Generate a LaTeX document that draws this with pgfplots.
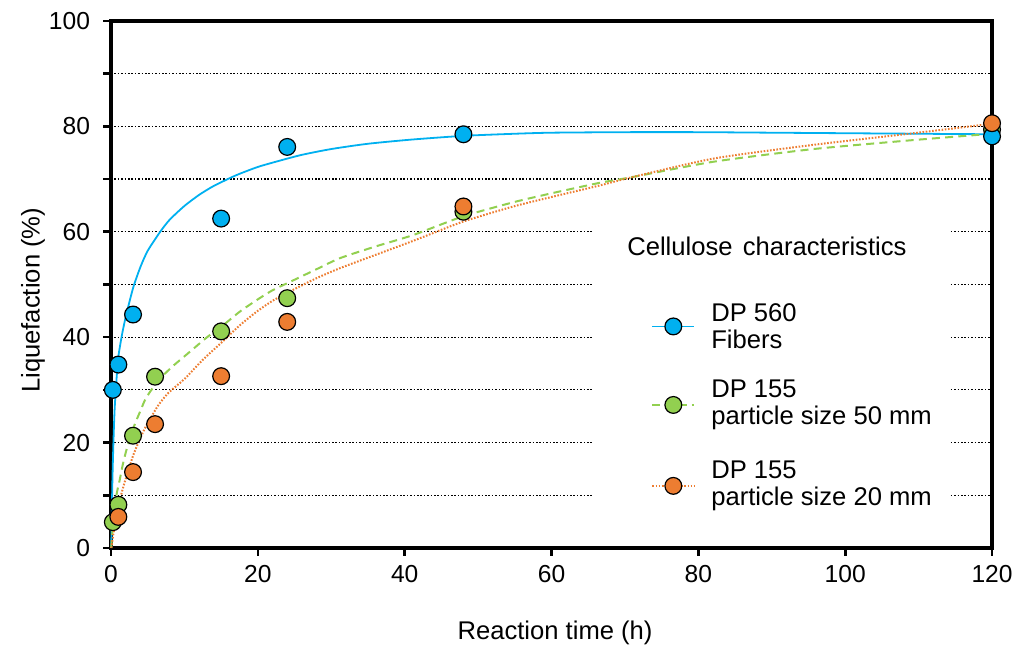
\documentclass[border=0pt]{standalone}
\usepackage{fontspec}
\setmainfont{Liberation Sans}
\usepackage{pgfplots}
\pgfplotsset{compat=1.18}

\definecolor{cblue}{RGB}{0,176,240}
\definecolor{cgreen}{RGB}{146,208,80}
\definecolor{corange}{RGB}{237,125,49}

% measured points
\pgfplotstableread{
x y
0.25 30.0
1 34.8
3 44.3
15 62.5
24 76.1
48 78.5
120 78.1
}\fibers
\pgfplotstableread{
x y
0.25 4.9
1 8.2
3 21.3
6 32.5
15 41.1
24 47.4
48 63.8
120 79.4
}\psfifty
\pgfplotstableread{
x y
1 5.9
3 14.4
6 23.5
15 32.6
24 42.9
48 64.8
120 80.6
}\pstwenty

\begin{document}
\begin{tikzpicture}[font=\fontsize{12.8}{13.5}\selectfont]
\begin{axis}[
  scale only axis, width=440.5pt, height=263.5pt,
  xmin=0, xmax=120, ymin=0, ymax=100,
  xtick={0,20,...,120}, ytick={0,20,...,100},
  minor ytick={10,30,...,90},
  xtick pos=bottom, ytick pos=left,
  tick align=outside, major tick length=4pt, minor tick length=4pt,
  tick style={black, line width=1.3pt},
  tick label style={font=\fontsize{12.3}{14}\selectfont},
  axis line style={line width=1.6pt},
  ymajorgrids, yminorgrids,
  major grid style={black, line width=0.6pt, dash pattern=on 0.8pt off 0.9pt},
  minor grid style={black, line width=0.6pt, dash pattern=on 0.8pt off 0.9pt},
  /pgf/number format/assume math mode=true,
  xticklabel style={yshift=-1pt},
  yticklabel style={xshift=-3pt},
  xlabel={Reaction time (h)}, ylabel={Liquefaction (\%)},
  xlabel style={at={(rel axis cs:0.504,-0.161)}, anchor=center},
  ylabel style={at={(rel axis cs:-0.0885,0.47)}, anchor=center},
  clip=false,
  legend style={at={(0.547,0.632)}, anchor=north west, draw=none, fill=white,
    inner xsep=8.5pt, inner ysep=11pt, row sep=15.5pt, column sep=8pt,
    nodes={inner sep=0pt, text depth=, align=left}, cells={anchor=west}},
  legend image code/.code={%
    \path (-20.5pt,0) (0,0);
    \draw[#1, mark repeat=2, mark phase=2] plot coordinates {(0pt,0pt) (10.5pt,0pt) (21pt,0pt)};},
  mark size=4.2pt,
]
% fitted curves
\addplot[forget plot, cblue, line width=0.9pt, smooth, tension=0.4] coordinates {
(0.03,0)(0.1,6)(0.2,13.5)(0.35,21)(0.5,26.5)(0.75,32)(1,36.3)(1.5,40.5)(2,43.8)(3,49.3)
(4,53.3)(5,56.4)(6.7,60)(8,62.3)(10,64.9)(12,67)(14,68.7)(17,70.7)(20,72.3)(23,73.5)
(26,74.6)(30,75.7)(35,76.7)(41,77.5)(48,78.2)(55,78.6)(60,78.8)(70,78.9)(80,78.9)
(90,78.8)(100,78.7)(110,78.6)(120,78.5)};
\addplot[forget plot, cgreen, line width=1pt, dash pattern=on 4pt off 2.6pt, smooth, tension=0.4] coordinates {
(0.03,0)(0.1,1.5)(0.3,5)(0.55,8)(0.8,10.5)(1.2,13)(1.6,15.8)(2.1,18.6)(2.7,21.3)(3.3,23.7)
(4,26)(4.6,28)(5.3,29.6)(6,30.9)(7,32.6)(8.5,34.6)(10.8,37.3)(13,39.9)(15.3,42.3)(17.5,44.8)
(19.8,47)(22,48.9)(24.4,50.5)(28,52.9)(31.2,55)(36,57.2)(41.2,59.4)(47.9,62.9)(54.8,65.6)
(60,67.3)(66.6,69.3)(70.7,70.3)(82.1,73.3)(95.7,75.7)(109.3,77.4)(120,78.6)};
\addplot[forget plot, corange, line width=1pt, dash pattern=on 0.8pt off 0.8pt, smooth, tension=0.4] coordinates {
(0.05,0)(0.3,2.5)(0.7,5.5)(1.2,9.1)(1.8,12.2)(2.4,14.8)(3,17.5)(3.7,19.9)(4.5,22.4)(5.5,24.9)
(6.5,27.2)(7.8,29.4)(10.1,32.2)(12.5,35.7)(15.3,39.3)(17.5,42.2)(19.8,44.8)(22,46.9)
(24.4,48.7)(28,51.2)(31.2,53.1)(36,55.6)(41.2,58.3)(47.9,61.9)(54.8,64.8)(60,66.6)
(66.6,68.8)(70.5,70.2)(82.1,73.9)(95.7,76.5)(109.3,78.7)(120,80.5)};
% measured points
\addplot[forget plot, only marks, mark=*, mark options={solid, draw=black, line width=0.6pt, fill=cgreen}] table {\psfifty};
\addplot[forget plot, only marks, mark=*, mark options={solid, draw=black, line width=0.6pt, fill=cblue}] table {\fibers};
\addplot[forget plot, only marks, mark=*, mark options={solid, draw=black, line width=0.6pt, fill=corange}] table {\pstwenty};
% legend
\addlegendimage{empty legend}
\addlegendentry{\hspace*{-42pt}Cellulose\hspace{0.4em}characteristics\rule[-8.5pt]{0pt}{0pt}}
\addlegendimage{cblue, line width=0.9pt, mark=*, mark options={solid, draw=black, line width=0.6pt, fill=cblue}}
\addlegendentry{DP 560\\Fibers}
\addlegendimage{cgreen, line width=1pt, dash pattern=on 4pt off 2.6pt, mark=*, mark options={solid, draw=black, line width=0.6pt, fill=cgreen}}
\addlegendentry{DP 155\\particle size 50 mm}
\addlegendimage{corange, line width=1pt, dash pattern=on 0.8pt off 0.8pt, mark=*, mark options={solid, draw=black, line width=0.6pt, fill=corange}}
\addlegendentry{DP 155\\particle size 20 mm}
\coordinate (bbl) at (rel axis cs:-0.126,-0.186);
\coordinate (btr) at (rel axis cs:1.0272,1.0398);
\end{axis}
\pgfresetboundingbox
\path (bbl) rectangle (btr);
\end{tikzpicture}
\end{document}
